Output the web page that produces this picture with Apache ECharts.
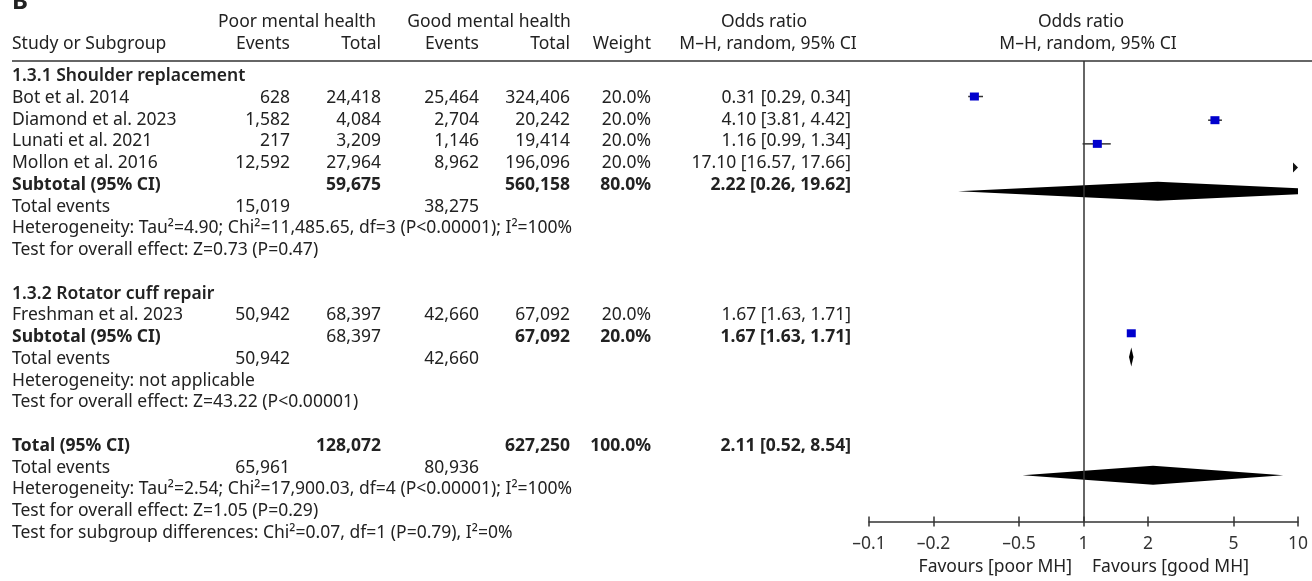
<!DOCTYPE html>
<html>
<head>
<meta charset="utf-8">
<script src="https://cdn.jsdelivr.net/npm/echarts@6/dist/echarts.min.js"></script>
<style>
  html, body { margin: 0; padding: 0; background: #fff; }
  #chart { width: 1312px; height: 581px; }
</style>
</head>
<body>
<div id="chart"></div>
<script>
// ---- Study-level data ----
const studies     = ['Bot et al. 2014', 'Diamond et al. 2023', 'Lunati et al. 2021', 'Mollon et al. 2016', 'Freshman et al. 2023'];
const studyGroup  = [0, 0, 0, 0, 1];
const poorEvents  = [628, 1582, 217, 12592, 50942];
const poorTotal   = [24418, 4084, 3209, 27964, 68397];
const goodEvents  = [25464, 2704, 1146, 8962, 42660];
const goodTotal   = [324406, 20242, 19414, 196096, 67092];
const studyWeight = [20.0, 20.0, 20.0, 20.0, 20.0];
const studyOR     = [0.31, 4.10, 1.16, 17.10, 1.67];
const studyLo     = [0.29, 3.81, 0.99, 16.57, 1.63];
const studyHi     = [0.34, 4.42, 1.34, 17.66, 1.71];

// ---- Subgroups and overall pooled results ----
const groupNames      = ['1.3.1 Shoulder replacement', '1.3.2 Rotator cuff repair'];
const groupPoorTotal  = [59675, 68397];
const groupGoodTotal  = [560158, 67092];
const groupPoorEvents = [15019, 50942];
const groupGoodEvents = [38275, 42660];
const groupWeight     = [80.0, 20.0];
const groupOR         = [2.22, 1.67];
const groupLo         = [0.26, 1.63];
const groupHi         = [19.62, 1.71];
const groupHetero     = ['Heterogeneity: Tau\u00b2=4.90; Chi\u00b2=11,485.65, df=3 (P<0.00001); I\u00b2=100%',
                         'Heterogeneity: not applicable'];
const groupEffect     = ['Test for overall effect: Z=0.73 (P=0.47)',
                         'Test for overall effect: Z=43.22 (P<0.00001)'];

const totalPoorTotal  = 128072;
const totalGoodTotal  = 627250;
const totalPoorEvents = 65961;
const totalGoodEvents = 80936;
const totalWeight     = 100.0;
const totalOR = 2.11, totalLo = 0.52, totalHi = 8.54;
const totalHetero   = 'Heterogeneity: Tau\u00b2=2.54; Chi\u00b2=17,900.03, df=4 (P<0.00001); I\u00b2=100%';
const totalEffect   = 'Test for overall effect: Z=1.05 (P=0.29)';
const totalSubgroup = 'Test for subgroup differences: Chi\u00b2=0.07, df=1 (P=0.79), I\u00b2=0%';

// ---- Odds-ratio axis ----
const tickValues = [0.1, 0.2, 0.5, 1, 2, 5, 10];
const tickLabels = ['\u20130.1', '\u20130.2', '\u20130.5', '1', '2', '5', '10'];

// ---- Layout ----
const FONT = 'Noto Sans';
const FS = 17.5;
const INK = '#222';
const COL = { name: 12, pe: 290, pt: 381, ge: 479, gt: 570, w: 651, ci: 851 };
const AX_MIN = Math.log10(tickValues[0]);
const AX_MAX = Math.log10(tickValues[tickValues.length - 1]);
const AXIS_Y = 521.5;

const fmtN = v => v.toLocaleString('en-US');
const fmtW = v => v.toFixed(1) + '%';
const fmtCI = (m, l, h) => m.toFixed(2) + ' [' + l.toFixed(2) + ', ' + h.toFixed(2) + ']';

// Build the table rows in order; each row index drives both the text
// position and the plot's y value.
const rows = [];
groupNames.forEach((g, gi) => {
  rows.push({ kind: 'header', text: g });
  studies.forEach((s, i) => {
    if (studyGroup[i] === gi) rows.push({ kind: 'study', i });
  });
  rows.push({ kind: 'subtotal', gi });
  rows.push({ kind: 'events', pe: groupPoorEvents[gi], ge: groupGoodEvents[gi] });
  rows.push({ kind: 'note', text: groupHetero[gi] });
  rows.push({ kind: 'note', text: groupEffect[gi] });
  rows.push({ kind: 'blank' });
});
rows.push({ kind: 'total' });
rows.push({ kind: 'events', pe: totalPoorEvents, ge: totalGoodEvents });
rows.push({ kind: 'note', text: totalHetero });
rows.push({ kind: 'note', text: totalEffect });
rows.push({ kind: 'note', text: totalSubgroup });

const rowY = r => 98 + (r - 1) * 21.75;

const graphics = [];
function txt(x, y, text, align, weight) {
  graphics.push({
    type: 'text', x, y, silent: true,
    style: {
      text, fill: INK, font: (weight || 'normal') + ' ' + FS + 'px "' + FONT + '"',
      align: align || 'left', verticalAlign: 'middle'
    }
  });
}

// Panel letter (its top runs off the page), header and rule
graphics.push({
  type: 'text', x: 12, y: -10, silent: true,
  style: { text: 'B', fill: INK, font: 'bold 24px "' + FONT + '"', align: 'left', verticalAlign: 'top' }
});
txt(297, 22, 'Poor mental health', 'center');
txt(489, 22, 'Good mental health', 'center');
txt(764, 22, 'Odds ratio', 'center');
txt(1081, 22, 'Odds ratio', 'center');
txt(COL.name, 44, 'Study or Subgroup');
txt(COL.pe, 44, 'Events', 'right');
txt(COL.pt, 44, 'Total', 'right');
txt(COL.ge, 44, 'Events', 'right');
txt(COL.gt, 44, 'Total', 'right');
txt(COL.w, 44, 'Weight', 'right');
txt(768, 44, 'M\u2013H, random, 95% CI', 'center');
txt(1088, 44, 'M\u2013H, random, 95% CI', 'center');
graphics.push({
  type: 'line', silent: true,
  shape: { x1: 12, y1: 61, x2: 1312, y2: 61 },
  style: { stroke: '#333', lineWidth: 1.5 }
});

// Table body and plot data
const studyPts = [];
const pooledPts = [];
rows.forEach((row, r) => {
  const y = rowY(r);
  if (row.kind === 'header') {
    txt(COL.name, y, row.text, 'left', '600');
  } else if (row.kind === 'study') {
    const i = row.i;
    txt(COL.name, y, studies[i]);
    txt(COL.pe, y, fmtN(poorEvents[i]), 'right');
    txt(COL.pt, y, fmtN(poorTotal[i]), 'right');
    txt(COL.ge, y, fmtN(goodEvents[i]), 'right');
    txt(COL.gt, y, fmtN(goodTotal[i]), 'right');
    txt(COL.w, y, fmtW(studyWeight[i]), 'right');
    txt(COL.ci, y, fmtCI(studyOR[i], studyLo[i], studyHi[i]), 'right');
    studyPts.push([Math.log10(studyOR[i]), r, Math.log10(studyLo[i]), Math.log10(studyHi[i])]);
  } else if (row.kind === 'subtotal') {
    const gi = row.gi;
    txt(COL.name, y, 'Subtotal (95% CI)', 'left', 'bold');
    txt(COL.pt, y, fmtN(groupPoorTotal[gi]), 'right', gi === 0 ? 'bold' : 'normal');
    txt(COL.gt, y, fmtN(groupGoodTotal[gi]), 'right', 'bold');
    txt(COL.w, y, fmtW(groupWeight[gi]), 'right', 'bold');
    txt(COL.ci, y, fmtCI(groupOR[gi], groupLo[gi], groupHi[gi]), 'right', 'bold');
    pooledPts.push([Math.log10(groupOR[gi]), r, Math.log10(groupLo[gi]), Math.log10(groupHi[gi])]);
  } else if (row.kind === 'total') {
    txt(COL.name, y, 'Total (95% CI)', 'left', 'bold');
    txt(COL.pt, y, fmtN(totalPoorTotal), 'right', 'bold');
    txt(COL.gt, y, fmtN(totalGoodTotal), 'right', 'bold');
    txt(COL.w, y, fmtW(totalWeight), 'right', 'bold');
    txt(COL.ci, y, fmtCI(totalOR, totalLo, totalHi), 'right', 'bold');
    pooledPts.push([Math.log10(totalOR), r, Math.log10(totalLo), Math.log10(totalHi)]);
  } else if (row.kind === 'events') {
    txt(COL.name, y, 'Total events');
    txt(COL.pe, y, fmtN(row.pe), 'right');
    txt(COL.ge, y, fmtN(row.ge), 'right');
  } else if (row.kind === 'note') {
    txt(COL.name, y, row.text);
  }
});

// Axis captions
txt(1072, 567, 'Favours [poor MH]', 'right');
txt(1092, 567, 'Favours [good MH]', 'left');

// Study marker: CI whisker plus weight square; arrow when the CI lies beyond the axis
function renderStudy(params, api) {
  const row = api.value(1);
  const c = api.coord([api.value(0), row]);
  const right = api.coord([AX_MAX, row])[0];
  const left = api.coord([AX_MIN, row])[0];
  const children = [];
  if (api.value(2) > AX_MAX) {
    children.push({
      type: 'polygon',
      shape: { points: [[right, c[1]], [right - 5, c[1] - 5], [right - 5, c[1] + 5]] },
      style: { fill: '#111' }
    });
  } else {
    const x1 = Math.max(api.coord([api.value(2), row])[0], left);
    const x2 = Math.min(api.coord([api.value(3), row])[0], right);
    children.push({
      type: 'line', shape: { x1, y1: c[1], x2, y2: c[1] },
      style: { stroke: '#333', lineWidth: 1.5 }
    });
    children.push({
      type: 'rect', shape: { x: c[0] - 4.5, y: c[1] - 4, width: 9, height: 8 },
      style: { fill: '#0000cd' }
    });
  }
  return { type: 'group', children };
}

// Pooled estimate: diamond spanning the CI, cut at the axis limits
function renderDiamond(params, api) {
  const row = api.value(1);
  const c = api.coord([api.value(0), row]);
  const l = api.coord([api.value(2), row])[0];
  const r = api.coord([api.value(3), row])[0];
  const left = api.coord([AX_MIN, row])[0];
  const right = api.coord([AX_MAX, row])[0];
  const h = 9.5;
  const pts = [];
  if (l < left) {
    const k = h * (left - l) / (c[0] - l);
    pts.push([left, c[1] - (h - k)], [left, c[1] + (h - k)]);
  } else {
    pts.push([l, c[1]]);
  }
  pts.push([c[0], c[1] + h]);
  if (r > right) {
    const k = h * (r - right) / (r - c[0]);
    pts.push([right, c[1] + k], [right, c[1] - k]);
  } else {
    pts.push([r, c[1]]);
  }
  pts.push([c[0], c[1] - h]);
  return { type: 'polygon', shape: { points: pts }, style: { fill: '#000' } };
}

const tickCoords = tickValues.map(v => Math.log10(v));
function tickLabel(v) {
  let best = 0;
  tickCoords.forEach((t, i) => { if (Math.abs(t - v) < Math.abs(tickCoords[best] - v)) best = i; });
  return tickLabels[best];
}

const tickStyle = { color: '#333', width: 1.5 };
const chart = echarts.init(document.getElementById('chart'), null, { renderer: 'canvas' });
chart.setOption({
  animation: false,
  backgroundColor: '#fff',
  grid: [
    // main plotting area
    { left: 869, right: 14, top: 61, bottom: 581 - AXIS_Y, containLabel: false },
    // thin strip whose top edge sits on the axis line, carrying the upward tick halves
    { left: 869, right: 14, top: AXIS_Y, height: 10, containLabel: false }
  ],
  xAxis: [{
    type: 'value', gridIndex: 0, min: AX_MIN, max: AX_MAX, position: 'bottom',
    axisLine: { show: true, onZero: false, lineStyle: { color: '#333', width: 1.5 } },
    axisTick: { show: true, customValues: tickCoords, length: 5, lineStyle: tickStyle },
    axisLabel: {
      show: true, customValues: tickCoords, formatter: tickLabel, margin: 14,
      color: '#333', fontSize: FS, fontFamily: FONT
    },
    splitLine: { show: false }
  }, {
    type: 'value', gridIndex: 1, min: AX_MIN, max: AX_MAX, position: 'top',
    axisLine: { show: false, onZero: false },
    axisTick: { show: true, customValues: tickCoords, length: 5, lineStyle: tickStyle },
    axisLabel: { show: false },
    splitLine: { show: false }
  }],
  yAxis: [
    { type: 'value', gridIndex: 0, min: -0.5, max: 18.95, inverse: true, show: false,
      axisLine: { onZero: false }, splitLine: { show: false } },
    { type: 'value', gridIndex: 1, min: 0, max: 1, show: false,
      axisLine: { onZero: false }, splitLine: { show: false } }
  ],
  graphic: { elements: graphics },
  series: [{
    type: 'custom', name: 'Studies', data: studyPts, renderItem: renderStudy,
    xAxisIndex: 0, yAxisIndex: 0,
    encode: { x: 0, y: 1 }, clip: false, silent: true,
    markLine: {
      silent: true, symbol: 'none', label: { show: false },
      lineStyle: { color: '#333', width: 1.5, type: 'solid' },
      data: [{ xAxis: 0 }]
    }
  }, {
    type: 'custom', name: 'Pooled', data: pooledPts, renderItem: renderDiamond,
    xAxisIndex: 0, yAxisIndex: 0,
    encode: { x: 0, y: 1 }, clip: false, silent: true
  }]
});
</script>
</body>
</html>
